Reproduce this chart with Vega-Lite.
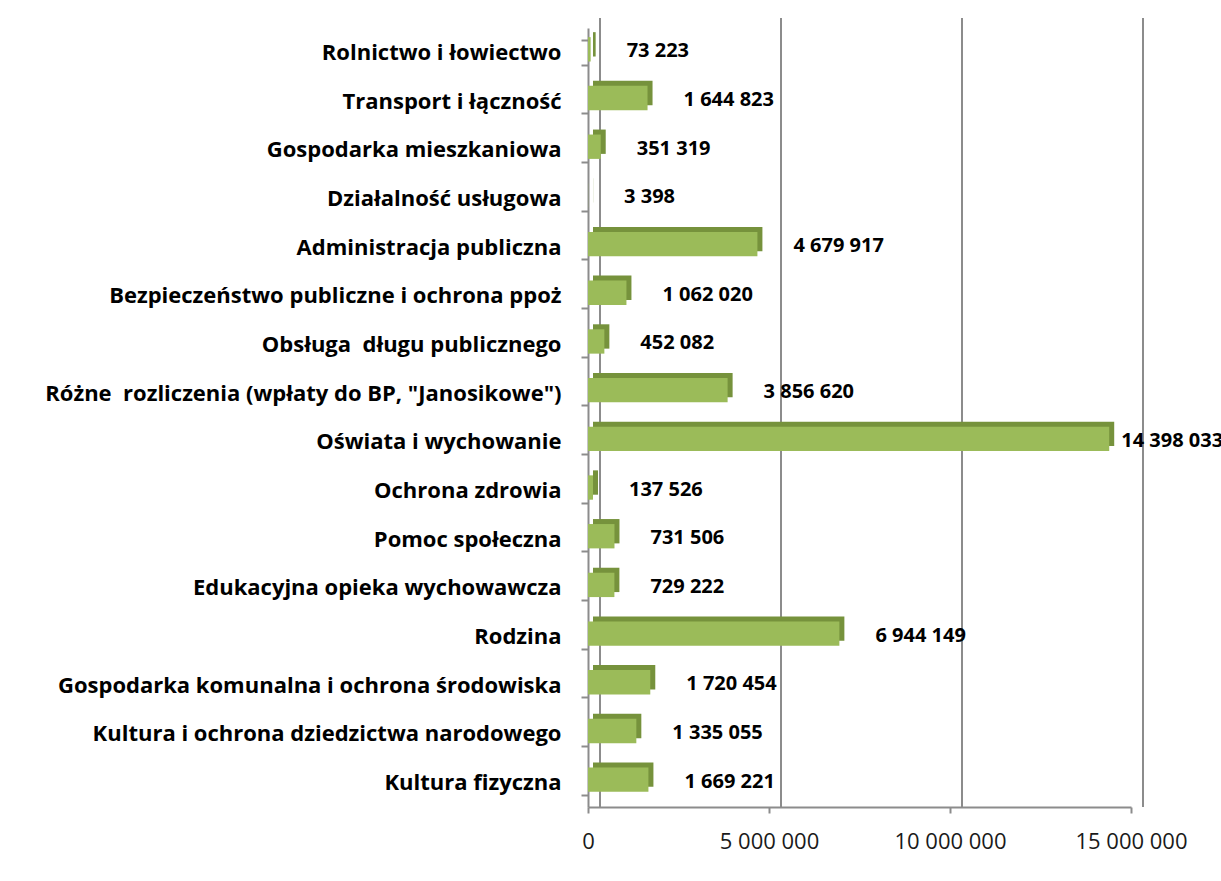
{
  "$schema": "https://vega.github.io/schema/vega-lite/v6.json",
  "autosize": "none",
  "width": 543,
  "height": 779,
  "padding": {"left": 588, "top": 28, "right": 90, "bottom": 74},
  "background": "white",
  "config": {
    "view": {"stroke": null},
    "font": "Open Sans",
    "locale": {"number": {"decimal": ",", "thousands": " ", "grouping": [3], "currency": ["", " zł"]}}
  },
  "datasets": {
    "bars": [
      {"kategoria": "Rolnictwo i łowiectwo", "wartosc": 73223},
      {"kategoria": "Transport i łączność", "wartosc": 1644823},
      {"kategoria": "Gospodarka mieszkaniowa", "wartosc": 351319},
      {"kategoria": "Działalność usługowa", "wartosc": 3398},
      {"kategoria": "Administracja publiczna", "wartosc": 4679917},
      {"kategoria": "Bezpieczeństwo publiczne i ochrona ppoż", "wartosc": 1062020},
      {"kategoria": "Obsługa \u00a0długu publicznego", "wartosc": 452082},
      {"kategoria": "Różne \u00a0rozliczenia (wpłaty do BP, \"Janosikowe\")", "wartosc": 3856620},
      {"kategoria": "Oświata i wychowanie", "wartosc": 14398033},
      {"kategoria": "Ochrona zdrowia", "wartosc": 137526},
      {"kategoria": "Pomoc społeczna", "wartosc": 731506},
      {"kategoria": "Edukacyjna opieka wychowawcza", "wartosc": 729222},
      {"kategoria": "Rodzina", "wartosc": 6944149},
      {"kategoria": "Gospodarka komunalna i ochrona środowiska", "wartosc": 1720454},
      {"kategoria": "Kultura i ochrona dziedzictwa narodowego", "wartosc": 1335055},
      {"kategoria": "Kultura fizyczna", "wartosc": 1669221}
    ],
    "grid": [{"v": 0}, {"v": 5000000}, {"v": 10000000}, {"v": 15000000}]
  },
  "layer": [
    {
      "data": {"name": "grid"},
      "mark": {"type": "rule", "color": "#8c8c8c", "strokeWidth": 2, "xOffset": 12, "yOffset": -10},
      "encoding": {
        "x": {
          "field": "v", "type": "quantitative",
          "scale": {"domain": [0, 15000000], "nice": false, "zero": true},
          "axis": {
            "title": null, "values": [0, 5000000, 10000000, 15000000], "format": ",d",
            "grid": false,
            "labelFont": "Open Sans", "labelFontSize": 22, "labelColor": "#1a1a1a", "labelPadding": 18,
            "domainColor": "#8c8c8c", "domainWidth": 2,
            "tickColor": "#8c8c8c", "tickSize": 6, "tickWidth": 2,
            "labelFlush": false
          }
        }
      }
    },
    {
      "data": {"name": "bars"},
      "mark": {"type": "bar", "color": "#76923C", "xOffset": 5, "yOffset": -8},
      "encoding": {
        "y": {
          "field": "kategoria", "type": "nominal", "sort": null,
          "scale": {"paddingInner": 0.5, "paddingOuter": 0.25},
          "axis": {
            "title": null,
            "labelFont": "Open Sans", "labelFontSize": 22, "labelFontWeight": "bold", "labelColor": "#000000",
            "labelPadding": 20, "labelLimit": 600,
            "domainColor": "#8c8c8c", "domainWidth": 2,
            "tickBand": "extent", "tickColor": "#8c8c8c", "tickSize": 7, "tickWidth": 2
          }
        },
        "x": {"field": "wartosc", "type": "quantitative"}
      }
    },
    {
      "data": {"name": "bars"},
      "mark": {"type": "bar", "color": "#9BBB59", "yOffset": -3},
      "encoding": {
        "y": {"field": "kategoria", "type": "nominal", "sort": null},
        "x": {"field": "wartosc", "type": "quantitative"}
      }
    },
    {
      "data": {"name": "bars"},
      "mark": {"type": "text", "align": "left", "baseline": "middle", "dx": {"expr": "datum.wartosc > 10000000 ? 12 : 36"}, "dy": -1, "fontSize": 20, "fontWeight": "bold", "font": "Open Sans", "color": "#000000"},
      "encoding": {
        "y": {"field": "kategoria", "type": "nominal", "sort": null},
        "x": {"field": "wartosc", "type": "quantitative"},
        "text": {"field": "wartosc", "type": "quantitative", "format": ",d"}
      }
    }
  ]
}
